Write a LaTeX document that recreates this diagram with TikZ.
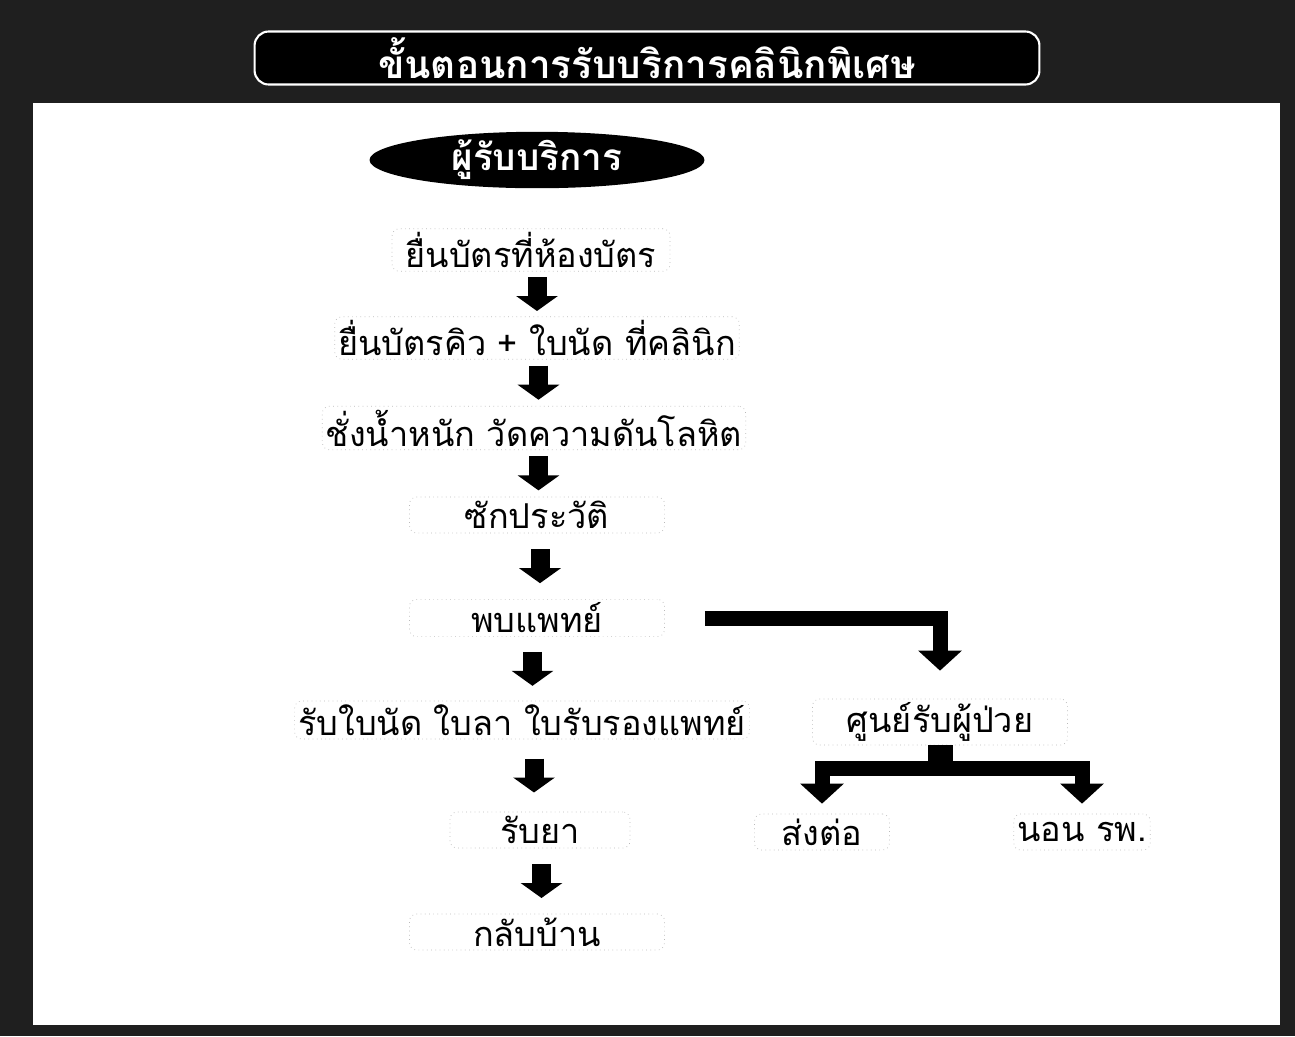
\documentclass[tikz,border=0pt]{standalone}
\usepackage{fontspec}
\newfontfamily\thaifont[Script=Thai]{Loma}
\usetikzlibrary{shapes.geometric,arrows.meta,calc}

\tikzset{
  stepbox/.style={draw=gray!55, dotted, rounded corners=4pt, minimum height=0.72cm, inner sep=2pt},
  blockarrow/.style={line width=0.38cm, -{Triangle[width=0.82cm,length=0.3cm]}},
  bentarrow/.style={line width=0.3cm, line join=miter, -{Triangle[width=0.85cm,length=0.4cm]}},
}

\begin{document}
\begin{tikzpicture}[x=0.02cm, y=-0.02cm, font=\thaifont\fontsize{19.5}{22}\selectfont]
\useasboundingbox (0,0) rectangle (1295,1036);

% Background and panel
\fill[black!88] (0,0) rectangle (1295,1036);
\fill[white] (33,103) rectangle (1280,1025);

% Title and start
\node[draw=white, line width=1.2pt, fill=black, rounded corners=8pt, minimum width=15.7cm, minimum height=1.06cm,
  text=white, font=\thaifont\bfseries\fontsize{22}{26}\selectfont] (title) at (647,58) {ขั้นตอนการรับบริการคลินิกพิเศษ};
\node[ellipse, fill=black, minimum width=6.7cm, minimum height=1cm, inner sep=0pt,
  text=white, font=\thaifont\bfseries\fontsize{21}{24}\selectfont] (client) at (537,160) {ผู้รับบริการ};

% Main steps
\node[stepbox, minimum width=5.56cm] (card) at (531,250) {ยื่นบัตรที่ห้องบัตร};
\node[stepbox, minimum width=7.5cm] (queue) at (537,338) {ยื่นบัตรคิว + ใบนัด ที่คลินิก};
\node[stepbox, minimum width=8.04cm] (weigh) at (534,428) {ชั่งน้ำหนัก วัดความดันโลหิต};
\node[stepbox, minimum width=5.1cm] (history) at (537,515) {ซักประวัติ};
\node[stepbox, minimum width=5.1cm] (doctor) at (537,618) {พบแพทย์};
\node[stepbox, minimum width=8.7cm] (slip) at (522,720) {รับใบนัด ใบลา ใบรับรองแพทย์};
\node[stepbox, minimum width=3.6cm] (drug) at (540,830) {รับยา};
\node[stepbox, minimum width=5.1cm] (home) at (537,932) {กลับบ้าน};

% Side steps
\node[stepbox, minimum width=5.1cm] (center) at (940,722) {ศูนย์รับผู้ป่วย};
\node[stepbox, minimum width=2.7cm] (refer) at (822,832) {ส่งต่อ};
\node[stepbox, minimum width=2.1cm] (admit) at (1082,832) {นอน รพ.};
\coordinate (fork) at (940,768);

% Arrows
\foreach \a/\b in {card/queue, queue/weigh, weigh/history, history/doctor, doctor/slip, slip/drug, drug/home}
  \draw[blockarrow] ($(\a.south)!0.5!(\b.north)+(3,-17)$) -- ++(0,34);
\draw[bentarrow, shorten <=0.8cm, shorten >=0.56cm] (doctor.east) -| (center.north);
\draw[line width=0.5cm] (center.south) -- (fork);
\draw[bentarrow, shorten >=0.2cm] (fork) -| (refer.north);
\draw[bentarrow, shorten >=0.2cm] (fork) -| (admit.north);

\end{tikzpicture}
\end{document}
